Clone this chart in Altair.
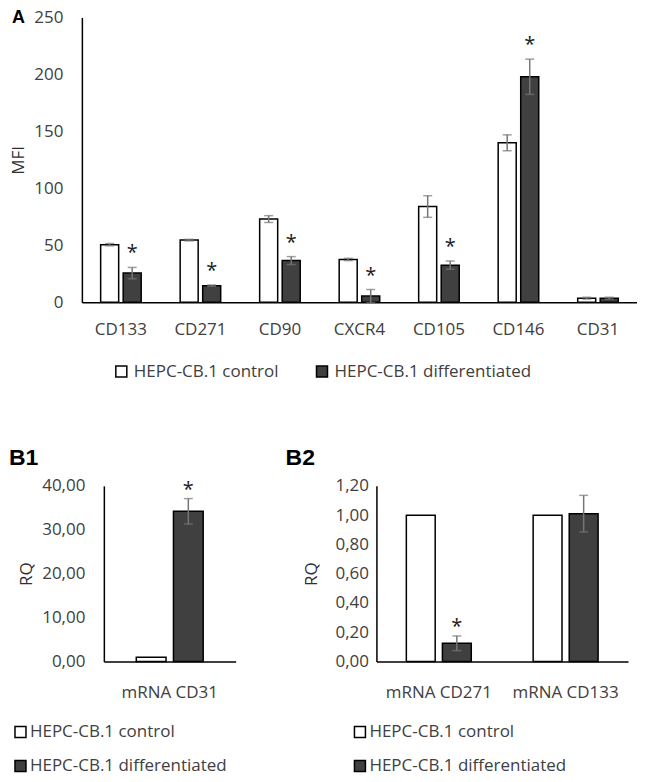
import altair as alt
import pandas as pd

groups = ["HEPC-CB.1 control", "HEPC-CB.1 differentiated"]

a_markers = ["CD133", "CD271", "CD90", "CXCR4", "CD105", "CD146", "CD31"]
a_control = [50.5, 54.5, 73.0, 37.5, 84.0, 140.0, 3.5]
a_control_err = [1.0, 0.7, 3.0, 1.0, 9.5, 7.0, 0.8]
a_diff = [25.5, 14.5, 36.5, 5.3, 32.5, 198.0, 3.5]
a_diff_err = [5.0, 0.5, 3.5, 5.8, 3.6, 15.5, 0.8]
a_sig = [True, True, True, True, True, True, False]

b1_genes = ["mRNA CD31"]
b1_control = [1.0]
b1_control_err = [0.0]
b1_diff = [34.2]
b1_diff_err = [2.9]
b1_sig = [True]

b2_genes = ["mRNA CD271", "mRNA CD133"]
b2_control = [1.0, 1.0]
b2_control_err = [0.0, 0.0]
b2_diff = [0.125, 1.01]
b2_diff_err = [0.05, 0.125]
b2_sig = [True, False]

FONT = "Open Sans"
LABEL_COLOR = "#404040"
ERR_COLOR = "#767676"
INDEP = dict(x="independent", y="independent", xOffset="independent",
             color="independent")


def make_df(cats, c, ce, d, de, sig):
    rows = []
    for i, cat in enumerate(cats):
        rows.append(dict(cat=cat, group=groups[0], value=c[i], err=ce[i],
                         lo=c[i] - ce[i], hi=c[i] + ce[i], star=""))
        rows.append(dict(cat=cat, group=groups[1], value=d[i], err=de[i],
                         lo=d[i] - de[i], hi=d[i] + de[i], star="*" if sig[i] else ""))
    return pd.DataFrame(rows)


def panel(df, cats, ydom, yvals, label_expr, w, h, pi, po, ylab_pad, ytitle,
          ytitle_pad, xlab_pad, title_txt, title_x, title_y, title_size,
          legend_kw, star_dy):
    x = alt.X("cat:N", sort=cats,
              scale=alt.Scale(paddingInner=pi, paddingOuter=po),
              axis=alt.Axis(title=None, labelAngle=0, ticks=False,
                            domainColor="black", domainWidth=1.5,
                            labelPadding=xlab_pad))
    xo = alt.XOffset("group:N", sort=groups,
                     scale=alt.Scale(paddingInner=0.2, paddingOuter=0))
    yaxis_kw = dict(values=yvals, title=ytitle, ticks=False, grid=False,
                    domainColor="black", domainWidth=1.5,
                    labelPadding=ylab_pad, titlePadding=ytitle_pad)
    if label_expr:
        yaxis_kw["labelExpr"] = label_expr
    yscale = alt.Scale(domain=ydom, nice=False)

    def Y(field):
        return alt.Y(field, scale=yscale, axis=alt.Axis(**yaxis_kw))

    base = alt.Chart(df)
    bars = base.mark_bar(stroke="black", strokeWidth=1.5).encode(
        x=x, xOffset=xo, y=Y("value:Q"),
        color=alt.Color("group:N", sort=groups,
                        scale=alt.Scale(domain=groups, range=["#ffffff", "#404040"]),
                        legend=alt.Legend(**legend_kw)),
    )
    eb = base.transform_filter("datum.err > 0")
    rule = eb.mark_rule(color=ERR_COLOR, strokeWidth=1.5).encode(
        x=x, xOffset=xo, y=Y("lo:Q"), y2="hi:Q")
    cap_hi = eb.mark_tick(color=ERR_COLOR, size=9, thickness=1.5).encode(
        x=x, xOffset=xo, y=Y("hi:Q"))
    cap_lo = eb.mark_tick(color=ERR_COLOR, size=9, thickness=1.5).encode(
        x=x, xOffset=xo, y=Y("lo:Q"))
    stars = base.transform_filter("datum.star != ''").mark_text(
        font=FONT, fontSize=20, color="#202020", dy=star_dy).encode(
        x=x, xOffset=xo, y=Y("hi:Q"), text="star:N")
    label = alt.Chart(pd.DataFrame({"t": [title_txt]})).mark_text(
        align="left", baseline="alphabetic", font="Liberation Sans",
        fontWeight="bold", fontSize=title_size, color="black").encode(
        x=alt.value(title_x), y=alt.value(title_y), text="t:N")
    return alt.layer(bars, rule, cap_hi, cap_lo, stars, label).properties(
        width=w, height=h)


def spacer():
    return alt.Chart(pd.DataFrame({"v": [0]})).mark_point(
        size=0, strokeWidth=0, opacity=0).encode(
        x=alt.value(0), y=alt.value(0)
    ).properties(width=1, height=1)


df_a = make_df(a_markers, a_control, a_control_err, a_diff, a_diff_err, a_sig)
df_b1 = make_df(b1_genes, b1_control, b1_control_err, b1_diff, b1_diff_err, b1_sig)
df_b2 = make_df(b2_genes, b2_control, b2_control_err, b2_diff, b2_diff_err, b2_sig)

comma_expr = "replace(format(datum.value, '.2f'), '.', ',')"

chart_a = panel(
    df_a, a_markers, [0, 250], [0, 50, 100, 150, 200, 250], None,
    556, 285, 0.49, 0.236, 19, "MFI", 6, 19,
    "A", -70, 5, 18,
    dict(orient="none", direction="horizontal", legendX=31, legendY=346,
         columnPadding=35, labelOffset=4, title=None),
    -14,
)
chart_b1 = panel(
    df_b1, b1_genes, [0, 40], [0, 10, 20, 30, 40], comma_expr,
    132, 176, 0.0, 0.485, 19, "RQ", 6, 23,
    "B1", -95, -21, 23,
    dict(orient="none", direction="vertical", legendX=-92, legendY=238,
         rowPadding=16, labelOffset=1, title=None),
    -9,
)
chart_b2 = panel(
    df_b2, b2_genes, [0, 1.2], [0, 0.2, 0.4, 0.6, 0.8, 1.0, 1.2], comma_expr,
    252, 176, 0.488, 0.236, 8, "RQ", 14, 23,
    "B2", -91, -21, 23,
    dict(orient="none", direction="vertical", legendX=-25, legendY=238,
         rowPadding=16, labelOffset=1, title=None),
    -9,
)

pair_b = alt.hconcat(chart_b1, chart_b2, spacing=50).resolve_scale(
    **INDEP).resolve_legend(color="independent")
row_a = alt.hconcat(spacer(), chart_a, spacing=0).resolve_scale(
    **INDEP).resolve_legend(color="independent")
row_b = alt.hconcat(spacer(), pair_b, spacing=0).resolve_scale(
    **INDEP).resolve_legend(color="independent")

chart = alt.vconcat(row_a, row_b, spacing=67).resolve_scale(
    **INDEP).resolve_legend(color="independent").properties(
    padding={"left": 0, "top": 0, "right": 0, "bottom": 0}
).configure_view(stroke=None).configure_axis(
    labelFont=FONT, labelFontSize=17, labelColor=LABEL_COLOR,
    titleFont=FONT, titleFontSize=17, titleColor="#303030",
    titleFontWeight="normal",
).configure_legend(
    labelFont=FONT, labelFontSize=17, labelColor=LABEL_COLOR,
    symbolType="square", symbolStrokeColor="black", symbolStrokeWidth=1.5,
    symbolSize=121, padding=0, labelLimit=400,
)

chart.save("out.html", embed_options={"renderer": "svg", "actions": False})
